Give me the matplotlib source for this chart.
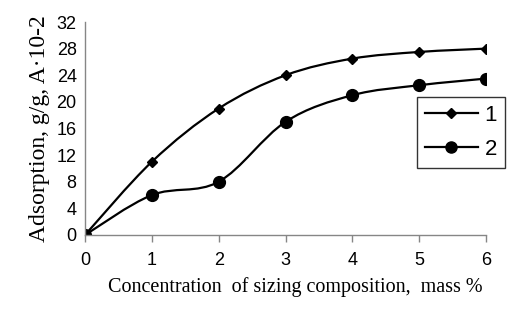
import numpy as np
import matplotlib.pyplot as plt
from matplotlib.path import Path
from matplotlib.patches import PathPatch
from matplotlib.lines import Line2D

conc = [0, 1, 2, 3, 4, 5, 6]
ads_1 = [0, 11, 19, 24, 26.5, 27.5, 28]
ads_2 = [0, 6, 8, 17, 21, 22.5, 23.5]
series_labels = ['1', '2']
y_ticks = [0, 4, 8, 12, 16, 20, 24, 28, 32]


def smooth_path(x, y, t=1/6):
    # Bezier path through the points (Catmull-Rom style tangents, like Excel smoothing)
    x = np.asarray(x, float)
    y = np.asarray(y, float)
    n = len(x)
    verts = [(x[0], y[0])]
    codes = [Path.MOVETO]
    for i in range(n - 1):
        p0 = i - 1 if i > 0 else i
        p3 = i + 2 if i + 2 < n else i + 1
        c1 = (x[i] + (x[i+1] - x[p0]) * t, y[i] + (y[i+1] - y[p0]) * t)
        c2 = (x[i+1] - (x[p3] - x[i]) * t, y[i+1] - (y[p3] - y[i]) * t)
        verts += [c1, c2, (x[i+1], y[i+1])]
        codes += [Path.CURVE4] * 3
    return Path(verts, codes)


fig = plt.figure(figsize=(5.16, 3.09), dpi=100)
ax = fig.add_axes([0.1647, 0.2395, 0.7772, 0.6893])

for ys in [ads_1, ads_2]:
    ax.add_patch(PathPatch(smooth_path(conc, ys), fill=False, lw=1.6, color='black'))

ax.plot(conc, ads_1, 'D', color='black', markersize=5.5, label=series_labels[0])
ax.plot(conc, ads_2, 'o', color='black', markersize=8.5, label=series_labels[1])

ax.set_xlim(0, 6)
ax.set_ylim(0, 32)
ax.set_xticks(conc)
ax.set_yticks(y_ticks)
for s in ['top', 'right']:
    ax.spines[s].set_visible(False)
for s in ['left', 'bottom']:
    ax.spines[s].set_color('#868686')
    ax.spines[s].set_linewidth(1)
ax.tick_params(axis='both', colors='#868686', width=1, labelcolor='black',
               labelsize=13)
ax.tick_params(axis='x', length=5, pad=7)
ax.tick_params(axis='y', length=0, pad=6)
for lab in ax.get_xticklabels() + ax.get_yticklabels():
    lab.set_fontfamily('Liberation Sans')

ax.set_ylabel('Adsorption, g/g, A·10-2', fontfamily='Liberation Serif', fontsize=17,
              labelpad=5)
ax.set_xlabel('Concentration  of sizing composition,  mass %', fontfamily='Liberation Serif',
              fontsize=14.5)
ax.xaxis.set_label_coords(0.524, -0.2)

handles = [Line2D([], [], color='black', lw=1.6, marker='D', markersize=5.5),
           Line2D([], [], color='black', lw=1.6, marker='o', markersize=8)]
leg = ax.legend(handles, series_labels, loc='upper left', bbox_to_anchor=(0.8, 0.7),
                frameon=True, fancybox=False, edgecolor='black',
                handlelength=2.4, handletextpad=0.3, borderpad=0.35, labelspacing=0.6,
                prop={'family': 'Liberation Sans', 'size': 16})
leg.get_frame().set_linewidth(1)

fig.savefig('out.png', dpi=100)
